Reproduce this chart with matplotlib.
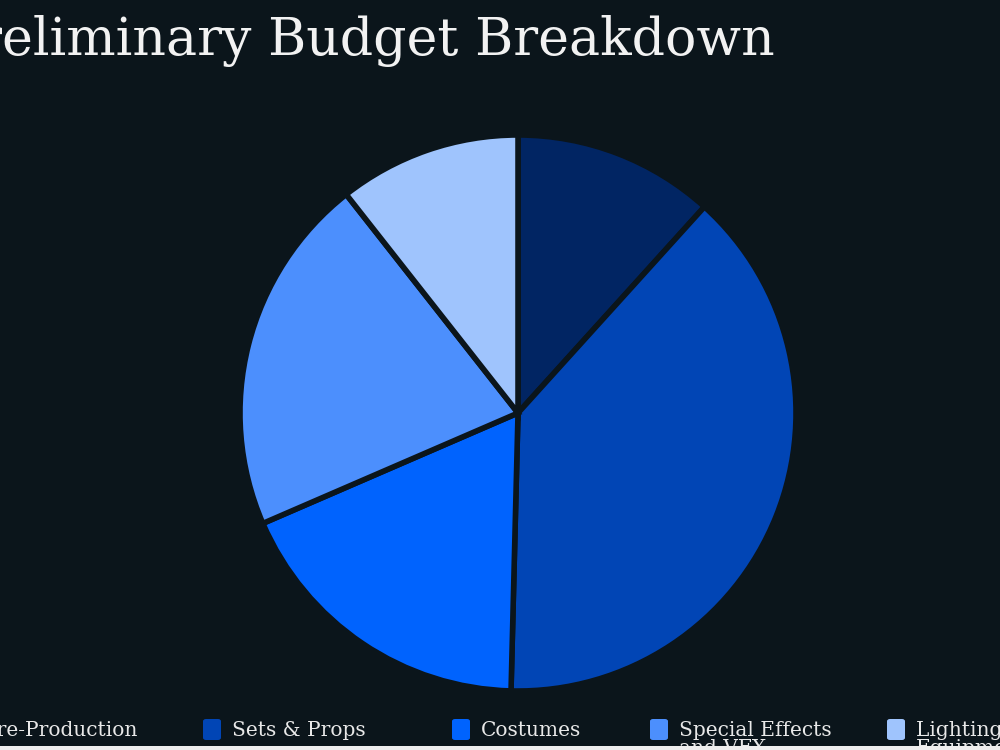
import matplotlib.pyplot as plt
from matplotlib.patches import FancyBboxPatch, Rectangle

categories = ["Pre-Production", "Sets & Props", "Costumes", "Special Effects\nand VFX", "Lighting &\nEquipment"]
shares = [11.7, 38.7, 18.1, 20.9, 10.6]
colors = ["#012563", "#0145b5", "#0063fe", "#4c8ffd", "#9fc4fd"]

bg = "#0b151b"
fig = plt.figure(figsize=(10, 7.5), dpi=100, facecolor=bg)

# pie, centre (518, 413) px, radius ~278 px
r = 278
ax = fig.add_axes([(518 - r) / 1000, 1 - (413 + r) / 750, 2 * r / 1000, 2 * r / 750])
ax.set_facecolor(bg)
ax.pie(shares, colors=colors, startangle=90, counterclock=False,
       wedgeprops=dict(edgecolor=bg, linewidth=4))
ax.set_aspect("auto")
ax.set_xlim(-1, 1)
ax.set_ylim(-1, 1)
ax.axis("off")

fig.text(0.775, 1 - 55 / 750, "Preliminary Budget Breakdown", ha="right", va="baseline",
         fontsize=37.5, color="#f2f2f2", family="DejaVu Serif")

# legend, placed by hand
marker_x = [-45, 203, 452, 650, 887]
for lab, col, mx in zip(categories, colors, marker_x):
    fig.patches.append(FancyBboxPatch((mx / 1000, 1 - 740 / 750), 18 / 1000, 21 / 750,
                                      boxstyle="round,pad=0,rounding_size=0.003",
                                      transform=fig.transFigure, facecolor=col,
                                      edgecolor="none"))
    fig.text((mx + 29) / 1000, 1 - 721 / 750, lab, ha="left", va="top",
             color="#e8e8e8", fontsize=14.5, family="DejaVu Serif", linespacing=0.9)

# light strip at the very bottom
fig.patches.append(Rectangle((0, 0), 1, 4 / 750, transform=fig.transFigure,
                             facecolor="#eeeeee", edgecolor="none", zorder=10))

fig.savefig("out.png", dpi=100, facecolor=bg)
